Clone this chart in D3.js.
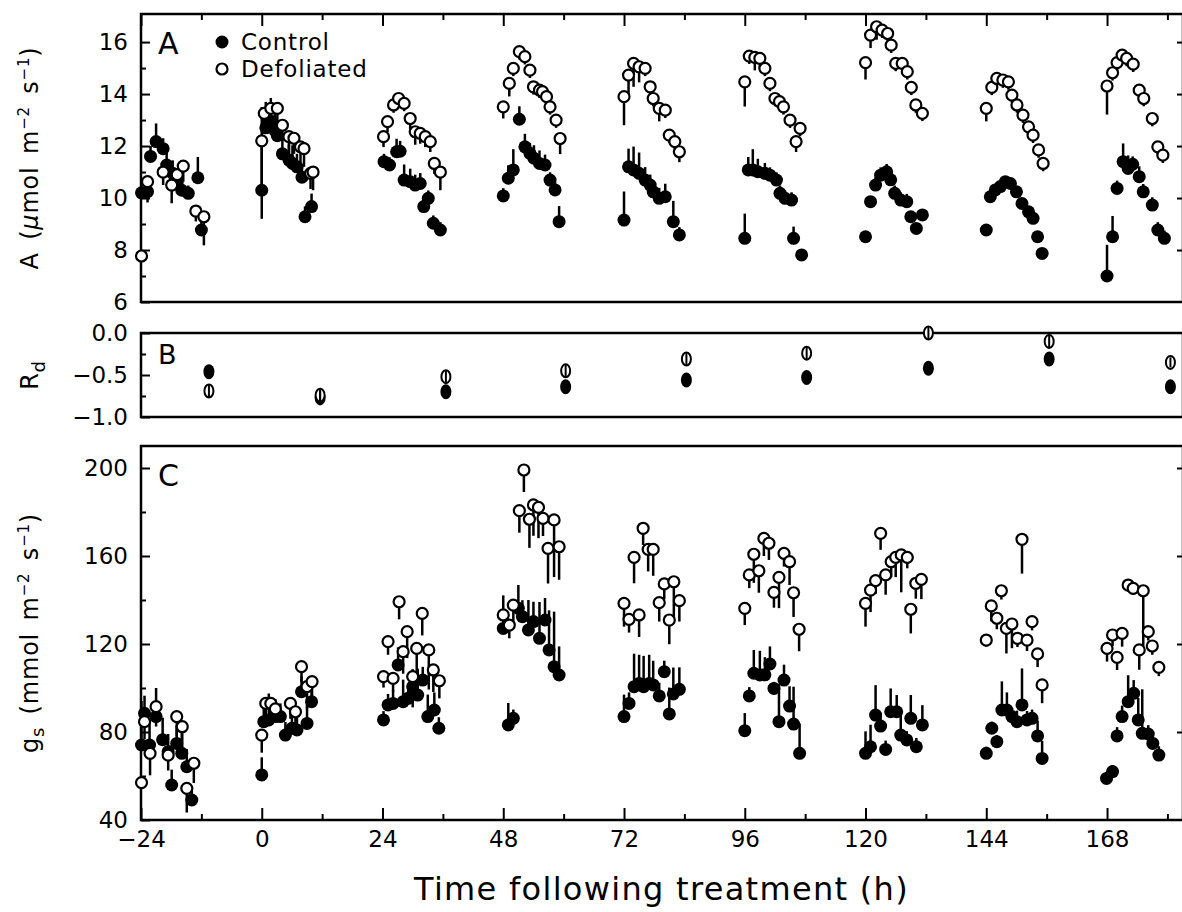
<!DOCTYPE html>
<html>
<head>
<meta charset="utf-8">
<script src="https://cdn.jsdelivr.net/npm/d3@7"></script>
<style>
body { margin: 0; background: #fff; }
svg { display: block; font-family: "DejaVu Sans", sans-serif; }
</style>
</head>
<body>
<script>
(function(){    // wrapper

// ---- data: [hour, value, standard error] ----
var controlA = [
    [-23.9,10.2,0.3],[-22.7,10.25,0.4],[-22.1,11.6,0.4],[-21,12.17,0.7],[-19.6,11.9,0.4],[-18.9,11.27,0.5],[-17.7,10.95,0.5],[-16.8,10.6,0.5],[-15.9,10.3,0.4],[-14.6,10.18,0.3],[-12.7,10.78,0.8],[-12,8.77,0.5],
    [0,10.3,3.2],[0.8,12.7,1.0],[1.8,12.95,0.9],[2.6,12.6,0.7],[3.1,12.4,0.6],[4.1,11.7,0.6],[5.4,11.46,0.6],[6.1,11.33,0.7],[7.0,11.2,0.5],[8.0,10.8,0.5],[8.6,9.28,0.4],[9.9,9.67,0.5],
    [24.3,11.4,0.3],[25.4,11.27,0.3],[26.8,11.78,0.5],[27.5,11.8,0.4],[28.3,10.69,0.6],[29.5,10.63,0.5],[30.5,10.5,0.4],[31.5,10.56,0.4],[32.2,9.67,0.3],[33.1,9.99,0.3],[34.1,9.03,0.3],[35.5,8.77,0.3],
    [48.0,10.08,0.3],[49.0,10.76,0.5],[50.0,11.08,0.8],[51.2,13.03,0.5],[52.3,11.97,0.5],[53.3,11.72,0.4],[54.1,11.53,0.5],[55.2,11.33,0.5],[56.3,11.27,0.4],[57.3,10.69,0.3],[58.3,10.31,0.3],[59.1,9.09,0.6],
    [72.0,9.15,1.1],[72.9,11.2,0.7],[73.9,11.08,0.9],[75.0,10.95,0.8],[76.2,10.69,0.5],[77.2,10.5,0.4],[77.8,10.24,0.4],[79.0,9.99,0.4],[80.2,10.05,0.5],[81.8,9.09,0.8],[83.0,8.58,0.3],
    [96.0,8.45,0.95],[96.7,11.08,0.5],[97.6,11.08,0.8],[98.6,11.01,0.5],[100.0,10.95,0.4],[101.0,10.88,0.3],[102.3,10.69,0.3],[103.0,10.18,0.3],[104.0,9.99,0.3],[105.3,9.92,0.3],[105.7,8.45,0.45],[107.3,7.81,0.2],
    [120.0,8.51,0.2],[121.0,9.86,0.2],[122.0,10.5,0.3],[123.0,10.88,0.3],[124.2,11.01,0.3],[125.0,10.7,0.3],[125.8,10.18,0.3],[127.0,9.92,0.3],[128.2,9.86,0.3],[129.0,9.28,0.2],[130.1,8.83,0.2],[131.3,9.35,0.2],
    [144.0,8.77,0.2],[144.8,10.05,0.2],[145.8,10.31,0.2],[146.8,10.44,0.2],[147.8,10.63,0.2],[148.8,10.56,0.2],[150.0,10.24,0.2],[151.1,9.79,0.2],[152.4,9.47,0.2],[153.3,9.22,0.2],[154.2,8.51,0.2],[155.1,7.87,0.2],
    [168.0,7.0,1.2],[169.1,8.51,0.8],[170.0,10.37,0.3],[171.2,11.4,0.7],[172.2,11.14,0.5],[173.1,11.3,0.3],[174.4,10.82,0.4],[175.2,10.24,0.3],[177.0,9.73,0.3],[178.1,8.77,0.3],[179.4,8.45,0.3]
];
var defolA = [
    [-23.9,7.77,0.2],[-22.7,10.63,0.8],[-19.6,11.0,0.5],[-17.9,10.5,0.7],[-16.8,10.9,0.5],[-15.6,11.23,0.6],[-13.1,9.5,0.4],[-11.5,9.28,1.1],
    [0,12.2,3.0],[0.5,13.26,0.6],[1.8,13.45,0.8],[3.1,13.45,0.7],[4.1,12.8,0.6],[5.4,12.36,0.7],[6.4,12.3,0.6],[7.7,11.97,0.6],[8.4,11.9,0.7],[9.7,10.95,0.6],[10.2,11.0,0.7],
    [24.2,12.36,0.4],[25.0,12.94,0.4],[26.2,13.58,0.3],[27.2,13.83,0.3],[28.3,13.64,0.3],[29.5,13.06,0.4],[30.5,12.55,0.5],[31.5,12.49,0.4],[32.5,12.36,0.4],[33.5,12.17,0.4],[34.3,11.33,0.4],[35.5,11.0,0.7],
    [48.0,13.51,0.45],[49.2,14.41,0.5],[50.0,14.99,0.3],[51.2,15.63,0.3],[52.3,15.44,0.3],[53.3,14.92,0.3],[54.0,14.28,0.3],[55.2,14.15,0.3],[55.8,14.09,0.3],[56.6,13.9,0.3],[57.3,13.51,0.3],[58.5,13.0,0.3],[59.3,12.29,0.6],
    [72.0,13.9,1.1],[72.9,14.73,0.8],[73.9,15.18,0.9],[75.0,15.05,0.6],[76.2,14.99,0.3],[77.2,14.28,0.3],[77.8,13.83,0.3],[79.0,13.45,0.5],[80.2,13.38,0.3],[81.0,12.42,0.3],[82.1,12.17,0.3],[83.0,11.78,0.4],
    [96.0,14.47,0.95],[96.9,15.46,0.3],[98.0,15.41,0.5],[99.0,15.37,0.4],[100.0,14.99,0.3],[101.0,14.41,0.3],[102.0,13.83,0.3],[102.9,13.71,0.3],[103.7,13.51,0.3],[105.0,13.0,0.3],[106.2,12.17,0.4],[107.0,12.68,0.3],
    [120.0,15.21,0.65],[121.0,16.27,0.5],[122.2,16.59,0.5],[123.3,16.46,0.3],[124.4,16.33,0.3],[125.1,15.88,0.3],[126.0,15.18,0.3],[127.3,15.18,0.3],[128.3,14.86,0.3],[129.1,14.26,0.3],[130.0,13.58,0.3],[131.3,13.26,0.3],
    [144.0,13.45,0.5],[145.1,14.26,0.3],[146.1,14.6,0.3],[147.3,14.54,0.3],[148.4,14.47,0.3],[149.1,13.96,0.3],[150.1,13.58,0.3],[151.3,13.19,0.3],[152.4,12.74,0.3],[153.3,12.42,0.3],[154.4,11.85,0.3],[155.3,11.33,0.3],
    [168.0,14.31,1.1],[169.1,14.82,0.3],[170.0,15.21,0.3],[171.0,15.5,0.3],[171.9,15.37,0.3],[173.2,15.15,0.3],[174.4,14.15,0.3],[175.3,13.83,0.3],[177.0,13.06,0.3],[178.1,11.97,0.3],[179.1,11.65,0.3]
];

var controlB = [
    [-10.5,-0.46,0.08],[11.6,-0.77,0.09],[36.6,-0.70,0.08],[60.4,-0.64,0.08],[84.4,-0.56,0.07],[108.3,-0.53,0.07],[132.5,-0.42,0.07],[156.5,-0.31,0.08],[180.6,-0.64,0.07]
];
var defolB = [
    [-10.5,-0.69,0.08],[11.6,-0.74,0.07],[36.6,-0.52,0.08],[60.4,-0.45,0.08],[84.4,-0.31,0.07],[108.3,-0.24,0.07],[132.5,0.0,0.07],[156.5,-0.10,0.08],[180.6,-0.35,0.06]
];

var controlC = [
    [-23.9,74.1,20],[-23.3,88.5,8],[-22.3,74.1,12],[-21.0,87.0,13],[-19.7,76.5,10],[-18.6,71.1,8],[-17.9,55.9,7],[-16.9,74.8,8],[-15.9,70.3,10],[-14.9,64.2,8],[-13.9,49.1,6],
    [0,60.5,8],[0.4,84.7,6],[1.4,85.5,12],[2.7,87.0,8],[3.7,87.0,6],[4.7,78.6,6],[6.0,81.7,8],[7.0,80.9,6],[7.9,98.3,7],[9.0,83.9,8],[9.9,93.8,6],
    [24.2,85.5,4],[25.1,92.3,5],[26.1,93.0,6],[27.1,110.5,8],[28.1,93.8,10],[29.1,95.3,6],[30.0,100.6,8],[31.0,96.8,12],[32.0,103.6,6],[33.0,87.0,10],[34.3,90.0,8],[35.2,81.7,5],
    [48.0,127.1,15],[49.0,83.2,10],[50.0,86.2,4],[51.0,136.2,10.6],[51.8,132.4,7.5],[53.0,126.4,13.6],[54.0,130.2,9],[55.2,122.6,16.5],[56.3,130.9,10],[57.1,117.3,18],[58.1,109.7,25],[59.1,105.9,13],
    [72.0,87.0,10],[73.0,93.0,5],[74.0,100.6,15],[75.0,102.1,13],[75.9,100.6,14],[77.0,102.1,13],[77.8,101.4,11],[79.0,96.4,6],[80.0,107.4,5],[81.0,88.2,12],[81.8,97.3,12],[83.0,99.4,10],
    [96.0,80.6,8],[96.9,96.4,4],[97.8,106.7,10.6],[99.0,105.9,11],[100.0,106.0,8],[101.0,110.9,8],[101.8,99.8,3],[102.8,84.7,17],[103.8,103.6,7],[104.9,91.8,9],[105.7,83.6,17],[106.9,70.3,13.6],
    [120.0,70.3,10],[121.0,73.3,10],[122.0,87.7,13.6],[123.0,82.7,6],[124.0,72.1,4],[125.0,89.2,10.6],[126.2,89.2,7.6],[127.0,78.6,10],[128.2,76.4,4],[129.0,86.2,10.6],[130.1,73.3,4],[131.3,83.2,9],
    [144.0,70.3,3],[145.1,81.7,3],[146.1,75.6,3],[147.1,90.0,13],[148.1,90.0,8],[149.1,87.0,4],[150.1,84.7,5],[151.1,92.3,16.6],[152.1,85.5,4],[153.1,86.2,4],[154.2,78.2,7],[155.1,68.0,8],
    [167.9,58.9,3],[169.1,62.0,3],[170.0,78.2,4],[171.0,87.0,5],[172.2,93.8,12],[173.3,97.6,6],[174.2,85.5,10],[175.0,79.4,20],[176.2,79.1,4],[177.1,74.8,4],[178.3,69.5,4]
];
var defolC = [
    [-23.9,57.0,3],[-23.3,84.7,8],[-22.2,70.3,10],[-21.0,91.5,9],[-18.6,69.5,7],[-16.9,87.0,9],[-15.8,82.4,10],[-14.9,54.4,11],[-13.5,65.8,9],
    [0,78.6,8],[0.8,93.0,7],[1.8,93.0,8],[2.7,90.5,6],[5.7,93.0,7],[6.7,89.2,8],[7.9,109.7,7],[9.0,100.6,10],[10.0,102.9,8],
    [24.2,105.2,5],[25.1,121.1,6],[26.1,104.4,6],[27.3,139.2,8],[28.1,116.5,10],[28.9,125.6,12],[30.0,105.2,14],[30.8,118.0,12],[31.9,133.9,10],[33.2,117.3,18],[34.1,108.2,10],[35.3,103.3,8],
    [48.0,133.2,5],[49.2,128.6,6],[50.0,137.7,8],[51.2,180.6,10],[52.1,199.1,10],[53.2,176.7,13],[54.0,183.2,14],[55.0,182.1,14],[55.9,177.1,8],[56.9,163.5,16],[58.1,176.4,26],[59.1,164.2,15],
    [72.0,138.5,10.6],[73.0,131.2,6],[74.0,159.4,11.8],[75.0,133.2,10],[75.8,172.6,7.6],[76.8,163.0,10],[77.8,163.0,12],[79.0,138.8,8.6],[80.0,147.3,7],[81.0,130.9,11],[81.9,148.3,18],[83.0,139.7,9.5],
    [96.0,136.2,7.6],[96.9,151.4,6],[97.8,160.8,13],[98.8,153.3,10],[99.8,168.0,8],[100.8,165.8,7.6],[101.8,143.5,7],[102.8,150.3,14],[103.8,161.2,6],[104.9,157.4,10.6],[105.7,143.3,11],[106.8,126.7,10],
    [120.0,138.5,10.6],[121.0,144.5,10],[122.0,148.8,6],[123.0,170.3,7.5],[124.0,151.4,9],[125.1,157.4,7],[126.0,159.4,9],[127.1,160.5,17],[128.3,159.4,5],[129.0,135.8,11],[130.0,147.6,7],[131.1,149.4,9],
    [144.0,121.8,3],[145.0,137.3,7],[146.1,131.7,5],[147.0,144.2,4],[148.0,127.1,11.4],[149.1,129.1,11],[150.2,122.6,4],[151.1,167.6,15.6],[152.1,121.8,5],[153.1,130.2,4],[154.2,115.5,6],[155.1,101.4,8.3],
    [168.0,118.0,6],[169.1,124.1,5],[170.0,113.9,5.7],[171.0,124.8,6],[172.2,146.8,3],[173.2,145.3,3],[174.4,117.3,9],[175.2,144.2,25],[176.2,125.6,4],[177.0,119.1,4],[178.3,109.4,4]
];

// tick values
var xTicks = [-24, 0, 24, 48, 72, 96, 120, 144, 168];
var xMinor = [-12, 12, 36, 60, 84, 108, 132, 156, 180];
var aTicks = [6, 8, 10, 12, 14, 16], aMinor = [7, 9, 11, 13, 15];
var bTicks = [0, -0.5, -1], bMinor = [-0.25, -0.75];
var cTicks = [40, 80, 120, 160, 200], cMinor = [60, 100, 140, 180];
var legendNames = ["Control", "Defoliated"];

var width = 1182, height = 912;
var left = 141, right = 1183;

var svg = d3.select("body").append("svg")
    .attr("width", width)
    .attr("height", height);

var x = d3.scaleLinear().domain([-24, 183.1]).range([left, right]);

var panels = [
    {letter: "A", top: 14, bottom: 302, domain: [6, 17.08], ticks: aTicks, minor: aMinor, rightTicks: [8,10,12,14,16],
     fmt: d3.format("d"), control: controlA, defol: defolA, small: false, topTicks: true},
    {letter: "B", top: 333, bottom: 417, domain: [-1, 0], ticks: bTicks, minor: bMinor, rightTicks: [],
     fmt: d3.format(".1f"), control: controlB, defol: defolB, small: true, topTicks: false},
    {letter: "C", top: 446, bottom: 820, domain: [40, 210], ticks: cTicks, minor: cMinor, rightTicks: [80,120,160,200],
     fmt: d3.format("d"), control: controlC, defol: defolC, small: false, topTicks: false}
];

function styleAxis(g, size){
    g.select(".domain").remove();
    g.selectAll("line").attr("stroke", "#000").attr("stroke-width", 2);
    g.selectAll("text").attr("fill", "#000")
        .style("font-family", "'DejaVu Sans', sans-serif")
        .style("font-size", size + "px");
}

panels.forEach(function(p){
    var y = d3.scaleLinear().domain(p.domain).range([p.bottom, p.top]);
    var g = svg.append("g");

    // left axis, ticks point into the plot
    g.append("g").attr("transform", "translate(" + left + ",0)")
        .call(d3.axisLeft(y).tickValues(p.ticks).tickSize(-9).tickPadding(13).tickFormat(p.fmt))
        .call(styleAxis, 23);
    g.append("g").attr("transform", "translate(" + left + ",0)")
        .call(d3.axisLeft(y).tickValues(p.minor).tickSize(-5).tickFormat(""))
        .call(styleAxis, 23);
    // right axis
    g.append("g").attr("transform", "translate(" + right + ",0)")
        .call(d3.axisRight(y).tickValues(p.rightTicks).tickSize(-6).tickFormat(""))
        .call(styleAxis, 23);

    if (p.topTicks){
        g.append("g").attr("transform", "translate(0," + p.top + ")")
            .call(d3.axisTop(x).tickValues(xTicks).tickSize(-12).tickFormat(""))
            .call(styleAxis, 23);
        g.append("g").attr("transform", "translate(0," + p.top + ")")
            .call(d3.axisTop(x).tickValues(xMinor).tickSize(-6).tickFormat(""))
            .call(styleAxis, 23);
    }

    // frame
    g.append("rect")
        .attr("x", left).attr("y", p.top)
        .attr("width", right - left).attr("height", p.bottom - p.top)
        .attr("fill", "none").attr("stroke", "#000").attr("stroke-width", 2.5);

    // panel letter
    g.append("text")
        .attr("x", left + 17)
        .attr("y", p.top + (p.small ? 31 : 40))
        .style("font-size", (p.small ? 27 : 30) + "px")
        .text(p.letter);

    function bars(data, dir){
        g.selectAll(null).data(data).enter().append("line")
            .attr("x1", function(d){ return x(d[0]); })
            .attr("x2", function(d){ return x(d[0]); })
            .attr("y1", function(d){ return y(p.small ? d[1] - d[2] : d[1]); })
            .attr("y2", function(d){ return y(d[1] + dir * d[2]); })
            .attr("stroke", "#000")
            .attr("stroke-width", p.small ? 2 : 2.5);
    }

    if (p.small){
        // respiration: small ovals with a two-sided bar drawn through them
        g.selectAll(null).data(p.control).enter().append("ellipse")
            .attr("cx", function(d){ return x(d[0]); })
            .attr("cy", function(d){ return y(d[1]); })
            .attr("rx", 5.5).attr("ry", 7.5)
            .attr("fill", "#000");
        g.selectAll(null).data(p.defol).enter().append("ellipse")
            .attr("cx", function(d){ return x(d[0]); })
            .attr("cy", function(d){ return y(d[1]); })
            .attr("rx", 4.5).attr("ry", 6.5)
            .attr("fill", "#fff")
            .attr("stroke", "#000")
            .attr("stroke-width", 2);
        bars(p.control, 1);
        bars(p.defol, 1);
        return;
    }

    // error bars: control up, defoliated down
    bars(p.control, 1);
    bars(p.defol, -1);

    g.selectAll(null).data(p.control).enter().append("circle")
        .attr("cx", function(d){ return x(d[0]); })
        .attr("cy", function(d){ return y(d[1]); })
        .attr("r", 6.5)
        .attr("fill", "#000");

    g.selectAll(null).data(p.defol).enter().append("circle")
        .attr("cx", function(d){ return x(d[0]); })
        .attr("cy", function(d){ return y(d[1]); })
        .attr("r", 5.5)
        .attr("fill", "#fff")
        .attr("stroke", "#000")
        .attr("stroke-width", 2.2);

    // bottom x axis on panel C
    if (p.letter === "C"){
        g.append("g").attr("transform", "translate(0," + p.bottom + ")")
            .call(d3.axisBottom(x).tickValues(xTicks).tickSize(-12).tickPadding(11).tickFormat(d3.format("d")))
            .call(styleAxis, 23);
        g.append("g").attr("transform", "translate(0," + p.bottom + ")")
            .call(d3.axisBottom(x).tickValues(xMinor).tickSize(-6).tickFormat(""))
            .call(styleAxis, 23);
    }
});

// legend in panel A
var legend = svg.append("g");
legendNames.forEach(function(name, i){
    var ly = 42 + i * 27;
    legend.append("circle")
        .attr("cx", 222).attr("cy", ly)
        .attr("r", i === 0 ? 6.5 : 5.5)
        .attr("fill", i === 0 ? "#000" : "#fff")
        .attr("stroke", i === 0 ? "none" : "#000")
        .attr("stroke-width", 2.2);
    legend.append("text")
        .attr("x", 241).attr("y", ly + 8)
        .style("font-size", "23px")
        .style("letter-spacing", "0.8px")
        .text(name);
});

// y axis titles
function yTitle(cy){
    return svg.append("text")
        .attr("transform", "translate(38," + cy + ") rotate(-90)")
        .attr("text-anchor", "middle")
        .style("font-size", "24px")
        .style("letter-spacing", "0.8px")
        .style("word-spacing", "4px");
}
var tA = yTitle(158);
tA.append("tspan").text("A (");
tA.append("tspan").style("font-style", "italic").text("\u03bc");
tA.append("tspan").text("mol m");
tA.append("tspan").attr("dy", -9).style("font-size", "15px").text("\u22122");
tA.append("tspan").attr("dy", 9).text(" s");
tA.append("tspan").attr("dy", -9).style("font-size", "15px").text("\u22121");
tA.append("tspan").attr("dy", 9).text(")");

var tB = yTitle(375);
tB.append("tspan").text("R");
tB.append("tspan").attr("dy", 7).style("font-size", "18px").text("d");

var tC = yTitle(633);
tC.append("tspan").text("g");
tC.append("tspan").attr("dy", 6).style("font-size", "18px").text("s");
tC.append("tspan").attr("dy", -6).text(" (mmol m");
tC.append("tspan").attr("dy", -9).style("font-size", "15px").text("\u22122");
tC.append("tspan").attr("dy", 9).text(" s");
tC.append("tspan").attr("dy", -9).style("font-size", "15px").text("\u22121");
tC.append("tspan").attr("dy", 9).text(")");

// x axis title
svg.append("text")
    .attr("x", (413 + 910) / 2)
    .attr("y", 900)
    .attr("text-anchor", "middle")
    .style("font-size", "32px")
    .style("letter-spacing", "1.3px")
    .text("Time following treatment (h)");

})();
</script>
</body>
</html>
